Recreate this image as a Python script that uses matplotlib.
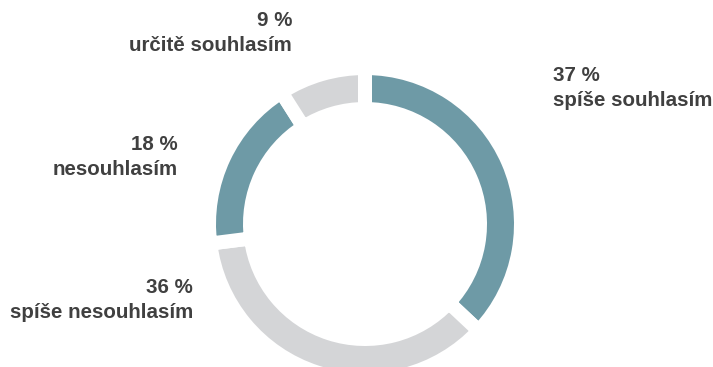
import matplotlib.pyplot as plt

# podíly odpovědí, po směru hodinových ručiček od 12 hodin
kategorie = ["spíše souhlasím", "spíše nesouhlasím", "nesouhlasím", "určitě souhlasím"]
podily = [37, 36, 18, 9]
barvy = ["#6e9aa6", "#d4d5d7", "#6e9aa6", "#d4d5d7"]

# umístění popisků (px v souřadnicích obrázku, y odshora) a zarovnání
popisky_xy = [(553, 88), (193, 300), (178, 157), (292, 33)]
popisky_ha = ["left", "right", "right", "right"]

W, H = 713, 367
STRED = (365, H - 224)
R_VNEJSI = 149
TLOUSTKA = 27
MEZERA = 14  # px bílé mezery mezi díly

plt.rcParams["font.family"] = ["Liberation Sans", "DejaVu Sans"]

fig = plt.figure(figsize=(W / 100, H / 100), dpi=100)
ax = fig.add_axes([0, 0, 1, 1])

ax.pie(
    podily,
    colors=barvy,
    startangle=90,
    counterclock=False,
    center=STRED,
    radius=R_VNEJSI + MEZERA / 2,
    frame=True,
    wedgeprops=dict(width=TLOUSTKA + MEZERA, edgecolor="white",
                    linewidth=MEZERA * 72 / 100, joinstyle="miter"),
)

for nazev, hodnota, (x, y), ha in zip(kategorie, podily, popisky_xy, popisky_ha):
    ax.text(x, H - y, f"{hodnota} %\n{nazev}", ha=ha, va="center",
            multialignment=ha, fontsize=14.8, fontweight="bold",
            color="#404040", linespacing=1.4)

ax.set_xlim(0, W)
ax.set_ylim(0, H)
ax.set_aspect("equal")
ax.axis("off")

fig.savefig("out.png", dpi=100)
